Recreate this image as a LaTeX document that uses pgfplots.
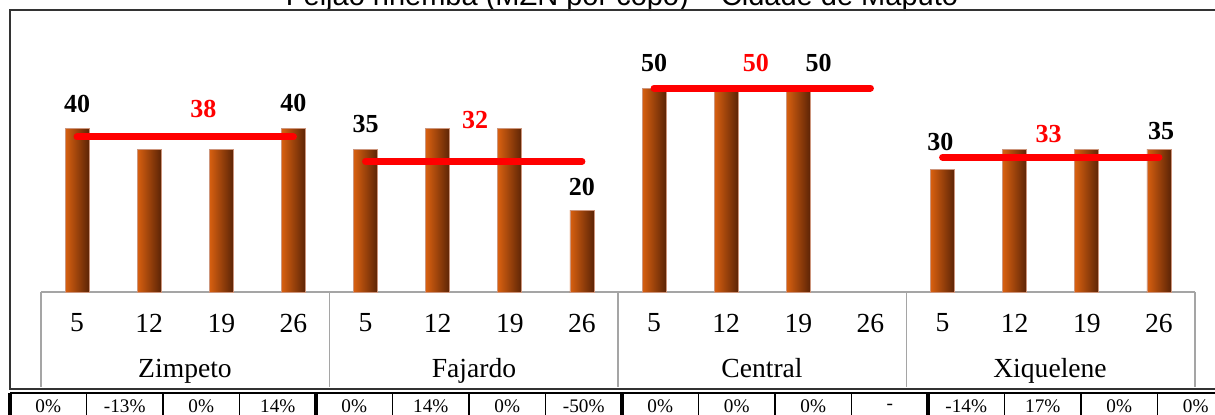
\documentclass[border=0pt]{standalone}
\usepackage{fontspec}
\setmainfont{Liberation Serif}
\newfontfamily\titlefont{Liberation Sans}
\usepackage{pgfplots}
\pgfplotsset{compat=1.18}

\definecolor{barL}{RGB}{216,96,16}
\definecolor{barM}{RGB}{226,108,24}
\definecolor{barR}{RGB}{92,36,6}
\definecolor{barEdge}{RGB}{205,150,125}
\definecolor{avgRed}{RGB}{255,0,0}
\definecolor{boxGray}{RGB}{165,165,165}

% one bar per plot so that each bar gets its own shading
\pgfplotsset{
  pricebar/.style={ybar, bar width=12pt, draw=barEdge, line width=0.4pt,
    left color=barL, middle color=barM, right color=barR, forget plot},
  avgline/.style={avgRed, line width=3.5pt, line cap=round},
}

\begin{document}
\begin{tikzpicture}[x=0.5pt,y=0.5pt]
% title sits half above the page, as in the original
\node[anchor=base, font=\titlefont\fontsize{14.5}{17}\selectfont] at (622,409) {Feijão nhemba (MZN por copo) – Cidade de Maputo};

% outer frame
\draw[black!80, line width=0.7pt] (1230,404) -- (10,404) -- (10,25) -- (1230,25);

% box for the category labels
\draw[boxGray, line width=0.6pt] (41,122) -- (1195,122);
\foreach \x in {41,329.5,618,906.5,1195}
  \draw[boxGray, line width=0.6pt] (\x,122) -- (\x,27);

% group names
\foreach \x/\name in {185/Zimpeto,474/Fajardo,762/Central,1050/Xiquelene}
  \node[font=\fontsize{13.8}{16}\selectfont, anchor=base] at (\x,37) {\name};

\begin{axis}[
  at={(20.5pt,61pt)}, anchor=south west,
  width=577pt, height=122.4pt, scale only axis,
  xmin=-0.5, xmax=15.5, ymin=0, ymax=60,
  clip=false,
  hide y axis,
  axis x line*=bottom,
  axis line style={draw=none},
  major tick length=0pt,
  xtick={0,...,15},
  xticklabels={5,12,19,26,5,12,19,26,5,12,19,26,5,12,19,26},
  xticklabel style={font=\fontsize{13.8}{16}\selectfont, anchor=center, yshift=-15.5pt},
  /pgf/number format/assume math mode=true,
]
% weekly prices: Zimpeto
\addplot[pricebar] coordinates {(0,40)};
\addplot[pricebar] coordinates {(1,35)};
\addplot[pricebar] coordinates {(2,35)};
\addplot[pricebar] coordinates {(3,40)};
% Fajardo
\addplot[pricebar] coordinates {(4,35)};
\addplot[pricebar] coordinates {(5,40)};
\addplot[pricebar] coordinates {(6,40)};
\addplot[pricebar] coordinates {(7,20)};
% Central (no price in week 26)
\addplot[pricebar] coordinates {(8,50)};
\addplot[pricebar] coordinates {(9,50)};
\addplot[pricebar] coordinates {(10,50)};
% Xiquelene
\addplot[pricebar] coordinates {(12,30)};
\addplot[pricebar] coordinates {(13,35)};
\addplot[pricebar] coordinates {(14,35)};
\addplot[pricebar] coordinates {(15,35)};

% monthly averages
\addplot[avgline] coordinates {(0,38) (3,38)};
\addplot[avgline] coordinates {(4,32) (7,32)};
\addplot[avgline] coordinates {(8,50) (11,50)};
\addplot[avgline] coordinates {(12,33) (15,33)};

% value labels
\addplot[draw=none, mark=none, nodes near coords, point meta=explicit symbolic,
  every node near coord/.style={anchor=center, font=\bfseries\fontsize{13}{15}\selectfont, text=black}]
  coordinates {
  (0,46.1) [40] (3,46.3) [40]
  (4,41.2) [35] (7,25.7) [20]
  (8,56.1) [50] (10.28,56.1) [50]
  (11.97,36.8) [30] (15.03,39.5) [35]};
\addplot[draw=none, mark=none, nodes near coords, point meta=explicit symbolic,
  every node near coord/.style={anchor=center, font=\bfseries\fontsize{13}{15}\selectfont, text=avgRed}]
  coordinates {
  (1.75,44.9) [38] (5.52,42.2) [32] (9.41,56.1) [50] (13.47,38.7) [33]};
\end{axis}

% week-on-week change table
\draw[black, line width=1.1pt] (10,21) -- (1240,21);
\foreach \i in {0,...,16}{
  \pgfmathsetmacro{\xx}{10+76.5*\i}
  \pgfmathtruncatemacro{\m}{mod(\i,4)}
  \ifnum\m=0
    \draw[black, line width=2pt] (\xx,21) -- (\xx,-10);
  \else
    \draw[black, line width=0.9pt] (\xx,21) -- (\xx,-10);
  \fi
}
\foreach \t [count=\i from 0] in {0\%,-13\%,0\%,14\%,0\%,14\%,0\%,-50\%,0\%,0\%,0\%,-,-14\%,17\%,0\%,0\%}
  \node[font=\fontsize{9.6}{11}\selectfont] at ({10+76.5*(\i+0.5)},7.5) {\t};

\pgfresetboundingbox
\useasboundingbox (0,0) rectangle (1215,414);
\end{tikzpicture}
\end{document}
